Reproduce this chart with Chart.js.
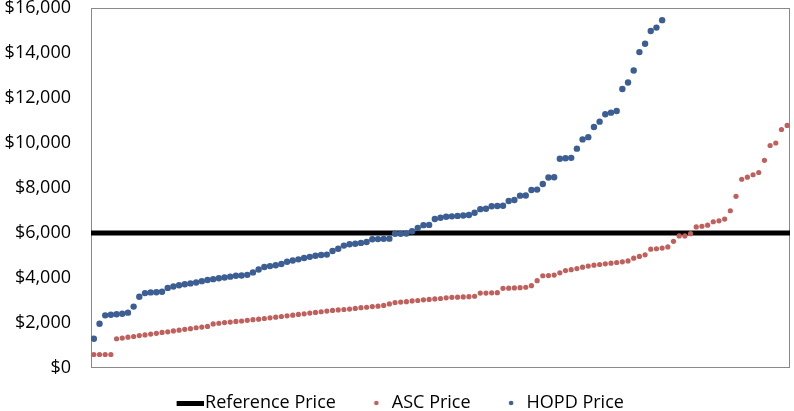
<!DOCTYPE html>
<html>
<head>
<meta charset="utf-8">
<script src="https://cdn.jsdelivr.net/npm/chart.js@4.4.0/dist/chart.umd.min.js"></script>
<style>
  html, body { margin: 0; padding: 0; background: #fff; }
</style>
</head>
<body>
<canvas id="priceChart" width="794" height="411"></canvas>
<script>
// Prices sorted low to high, one dot per procedure
const ascPrice = [
  600, 600, 600, 600,
  1300, 1330, 1370, 1400, 1440, 1470, 1510, 1540, 1580, 1610, 1650, 1680, 1720, 1750, 1790, 1820, 1850,
  1960, 1990, 2020, 2040, 2070, 2090, 2120, 2150, 2170, 2200, 2230, 2260, 2290, 2320, 2350, 2380, 2410, 2440, 2470, 2500, 2530,
  2560, 2580, 2600, 2620, 2650, 2680, 2700, 2730, 2750, 2780,
  2850, 2910, 2930, 2950, 2980, 3000, 3030, 3050, 3070,
  3090, 3120, 3140, 3150, 3160, 3170, 3190,
  3330, 3330, 3340, 3350,
  3540, 3550, 3560, 3570, 3590,
  3660, 3880,
  4100, 4110, 4130,
  4230, 4330,
  4370, 4420, 4480, 4530, 4570, 4600, 4630, 4660, 4690, 4720, 4760, 4880, 4960, 5030,
  5280, 5300, 5330, 5380,
  5630, 5870, 5870, 5970,
  6270, 6300, 6350, 6500, 6540, 6620,
  6990, 7630,
  8390, 8480, 8590, 8690,
  9230, 9890, 10000, 10600, 10780
];

const hopdPrice = [
  1300, 1970,
  2340, 2370, 2390, 2410, 2460,
  2730, 3170,
  3330, 3360, 3370, 3390,
  3560, 3620, 3680, 3720, 3760, 3800, 3860, 3910,
  3950, 3990, 4020, 4060, 4100,
  4110, 4140,
  4250, 4380, 4490,
  4530, 4570, 4620, 4720,
  4780, 4830, 4890,
  4940, 4990, 5020, 5040,
  5200, 5300, 5440, 5500,
  5520, 5560, 5600,
  5720, 5730, 5740, 5750,
  5970, 5970, 5980,
  6080, 6230,
  6350, 6360,
  6620, 6680, 6720,
  6740, 6760, 6780, 6800,
  6900,
  7060, 7080,
  7190, 7200, 7210,
  7420, 7470,
  7660, 7670,
  7910, 7930,
  8180,
  8470, 8480,
  9300, 9320, 9340,
  9750,
  10160, 10260,
  10710, 10950,
  11280, 11350, 11420,
  12400, 12690,
  13220,
  14040, 14410,
  14980, 15130,
  15460
];

const referencePrice = 6000;
const seriesLabels = ['Reference Price', 'ASC Price', 'HOPD Price'];
const yMin = 0, yMax = 16000, yStep = 2000;

// rank on the x axis (1 = cheapest)
const rankMin = 0.5;
const rankMax = ascPrice.length + 0.5;
const toPoints = arr => arr.map((v, i) => ({ x: i + 1, y: v }));

// little canvases used as legend markers
function makeMarker(w, h, draw) {
    const c = document.createElement('canvas');
    c.width = w;
    c.height = h;
    draw(c.getContext('2d'));
    return c;
}
const legendMarkers = [
    makeMarker(62, 5, g => { g.fillStyle = '#000'; g.fillRect(35, 0, 27, 5); }),
    makeMarker(40, 8, g => { g.fillStyle = '#C0605D'; g.beginPath(); g.arc(37, 4, 2.3, 0, Math.PI * 2); g.fill(); }),
    makeMarker(40, 8, g => { g.fillStyle = '#3C5E92'; g.beginPath(); g.arc(37, 4, 2.3, 0, Math.PI * 2); g.fill(); })
];

// box round the plot area
const plotFrame = {
    id: 'plotFrame',
    beforeDatasetsDraw(chart) {
        const { ctx, chartArea: a } = chart;
        ctx.save();
        ctx.strokeStyle = '#898989';
        ctx.lineWidth = 1;
        ctx.strokeRect(a.left + 0.5, a.top + 0.5, a.width - 1, a.height - 1);
        ctx.restore();
    }
};

const ctx = document.getElementById('priceChart').getContext('2d');
new Chart(ctx, {
    type: 'scatter',
    data: {
        datasets: [
            {
                type: 'line',
                label: seriesLabels[0],
                data: [{ x: rankMin, y: referencePrice }, { x: rankMax, y: referencePrice }],
                borderColor: '#000',
                borderWidth: 5,
                pointRadius: 0,
                order: 3
            },
            {
                label: seriesLabels[1],
                data: toPoints(ascPrice),
                backgroundColor: '#C0605D',
                borderWidth: 0,
                pointRadius: 2.6,
                order: 2
            },
            {
                label: seriesLabels[2],
                data: toPoints(hopdPrice),
                backgroundColor: '#3C5E92',
                borderWidth: 0,
                pointRadius: 3.2,
                order: 1
            }
        ]
    },
    options: {
        responsive: false,
        animation: false,
        layout: {
            autoPadding: false,
            padding: { left: -17, right: 4, top: 8, bottom: -11 }
        },
        scales: {
            x: {
                type: 'linear',
                min: rankMin,
                max: rankMax,
                ticks: { display: false },
                grid: { display: false, drawTicks: false },
                border: { display: false },
                afterFit: scale => { scale.height = 26; }
            },
            y: {
                min: yMin,
                max: yMax,
                ticks: {
                    stepSize: yStep,
                    padding: 20,
                    color: '#000',
                    font: { family: '"Open Sans"', size: 18 },
                    callback: v => '$' + v.toLocaleString('en-US')
                },
                grid: { display: false, drawTicks: false },
                border: { display: false },
                afterFit: scale => {
                    scale.width = 108;
                    scale.paddingTop = 0;
                    scale.paddingBottom = 0;
                }
            }
        },
        plugins: {
            tooltip: { enabled: false },
            legend: {
                position: 'bottom',
                labels: {
                    usePointStyle: true,
                    pointStyleWidth: 47,
                    padding: 0,
                    color: '#000',
                    font: { family: '"Open Sans"', size: 18 },
                    sort: (a, b) => a.datasetIndex - b.datasetIndex,
                    generateLabels: chart =>
                        Chart.defaults.plugins.legend.labels.generateLabels(chart)
                            .map(item => ({ ...item, pointStyle: legendMarkers[item.datasetIndex] }))
                }
            }
        }
    },
    plugins: [plotFrame]
});
</script>
</body>
</html>
